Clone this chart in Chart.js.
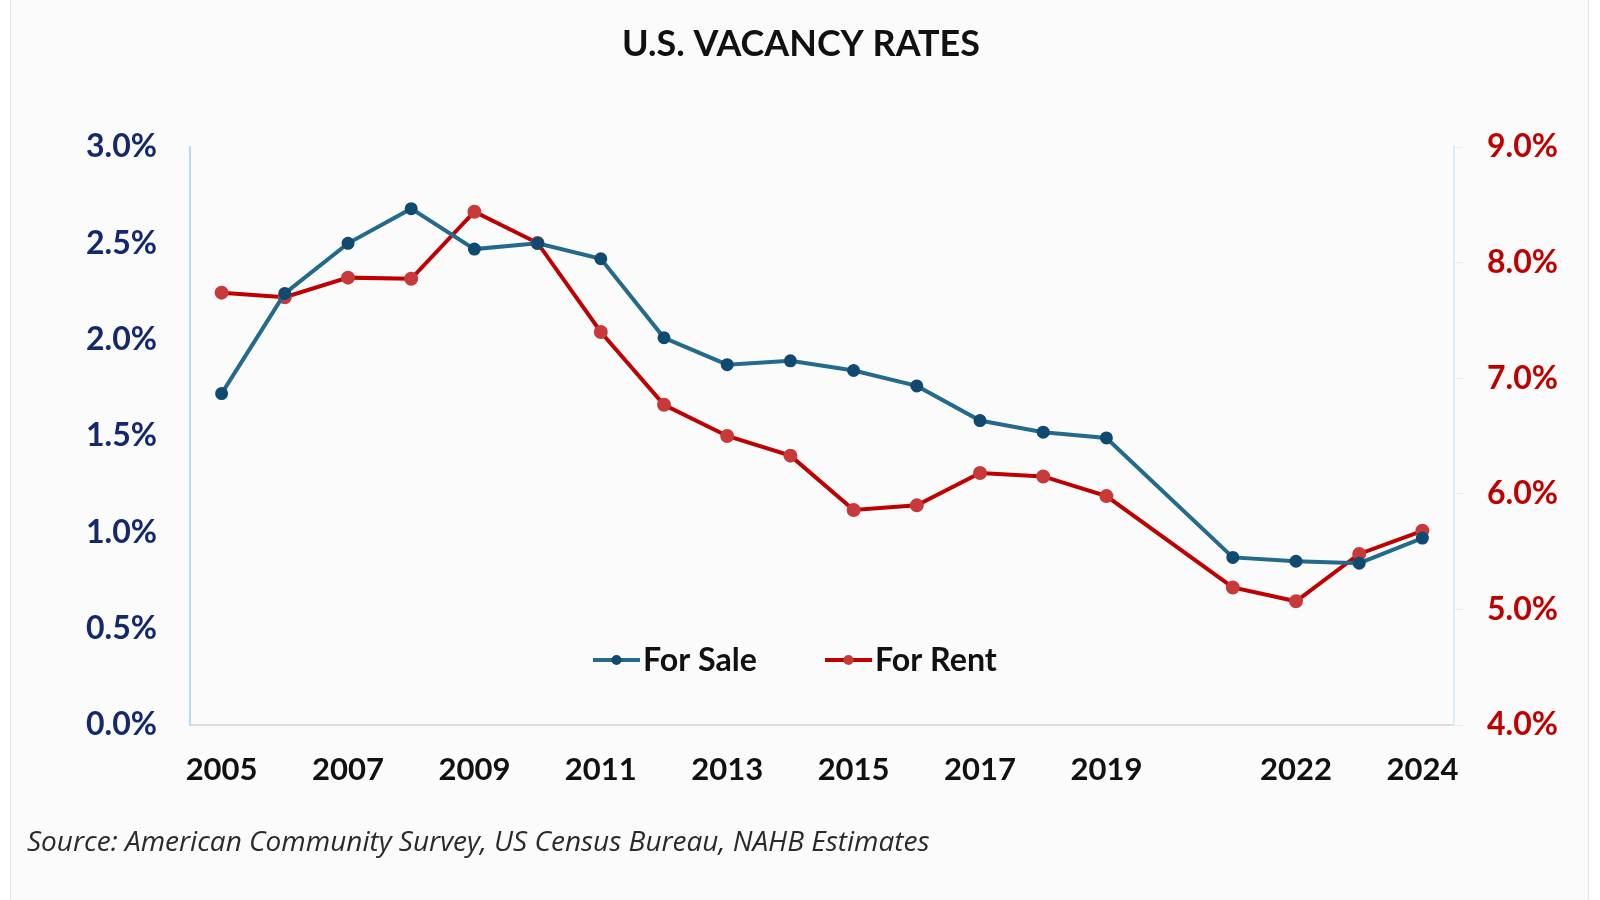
<!DOCTYPE html>
<html>
<head>
<meta charset="utf-8">
<script src="https://cdn.jsdelivr.net/npm/chart.js@4/dist/chart.umd.min.js"></script>
<style>
  html, body { margin: 0; padding: 0; background: #ffffff; }
  #wrap { position: relative; width: 1600px; height: 900px; }
</style>
</head>
<body>
<div id="wrap"><canvas id="vacancyChart" width="1600" height="900"></canvas></div>
<script>
// ---- data ----
const years = ['2005','2006','2007','2008','2009','2010','2011','2012','2013','2014',
               '2015','2016','2017','2018','2019','2020','2021','2022','2023','2024'];
const shownYears = ['2005','2007','2009','2011','2013','2015','2017','2019','2022','2024'];
const forSale = [1.72, 2.24, 2.50, 2.68, 2.47, 2.50, 2.42, 2.01, 1.87, 1.89,
                 1.84, 1.76, 1.58, 1.52, 1.49, null, 0.87, 0.85, 0.84, 0.97];
const forRent = [7.74, 7.70, 7.87, 7.86, 8.44, 8.17, 7.40, 6.77, 6.50, 6.33,
                 5.86, 5.90, 6.18, 6.15, 5.98, null, 5.19, 5.07, 5.48, 5.68];

const saleColor = '#236a8c';
const salePoint = '#114a70';
const rentColor = '#c00000';
const rentPoint = '#c83a3a';
const FONT = 'Lato, "Open Sans", sans-serif';

// draw text squeezed/stretched to a given width by picking the font size
function fitText(c, text, x, y, width, style, family) {
    c.font = style + ' 20px ' + family;
    const size = 20 * width / c.measureText(text).width;
    c.font = style + ' ' + size.toFixed(1) + 'px ' + family;
    c.fillText(text, x, y);
}

// title, source note, legend inside the plot
const decorations = {
    id: 'decorations',
    beforeDraw(chart) {
        const c = chart.ctx;
        c.save();
        c.fillStyle = '#ffffff';
        c.fillRect(0, 0, chart.width, chart.height);
        c.fillStyle = '#fbfbfb';
        c.fillRect(10, 0, 1579, 900);
        c.strokeStyle = '#e2e2e2';
        c.lineWidth = 1;
        c.strokeRect(10.5, -1, 1578, 902);
        c.restore();
    },
    afterDraw(chart) {
        const c = chart.ctx;
        c.save();
        c.fillStyle = '#111111';
        c.textAlign = 'center';
        c.textBaseline = 'middle';
        fitText(c, 'U.S. VACANCY RATES', 801, 44, 358, 'bold', FONT);

        c.textAlign = 'left';
        c.fillStyle = '#2a2a2a';
        fitText(c, 'Source: American Community Survey, US Census Bureau, NAHB Estimates', 27, 843, 901, 'italic', '"Open Sans", sans-serif');

        const items = [
            { label: 'For Sale', color: saleColor, pt: salePoint, x: 593, w: 114 },
            { label: 'For Rent', color: rentColor, pt: rentPoint, x: 825, w: 122 }
        ];
        const y = 660;
        items.forEach(it => {
            c.strokeStyle = it.color;
            c.lineWidth = 4;
            c.beginPath();
            c.moveTo(it.x, y);
            c.lineTo(it.x + 47, y);
            c.stroke();
            c.fillStyle = it.pt;
            c.beginPath();
            c.arc(it.x + 23.5, y, 5, 0, Math.PI * 2);
            c.fill();
            c.fillStyle = '#111111';
            fitText(c, it.label, it.x + 50, y + 1, it.w, 'bold', FONT);
        });
        c.restore();
    }
};

new Chart(document.getElementById('vacancyChart'), {
    type: 'line',
    data: {
        labels: years,
        datasets: [
            { label: 'For Sale', data: forSale, yAxisID: 'y', borderColor: saleColor, backgroundColor: salePoint,
              pointBackgroundColor: salePoint, pointBorderColor: salePoint, borderWidth: 4, pointRadius: 4.5,
              tension: 0, spanGaps: true },
            { label: 'For Rent', data: forRent, yAxisID: 'y2', borderColor: rentColor, backgroundColor: rentPoint,
              pointBackgroundColor: rentPoint, pointBorderColor: rentPoint, borderWidth: 4, pointRadius: 5,
              tension: 0, spanGaps: true }
        ]
    },
    options: {
        responsive: false,
        animation: false,
        devicePixelRatio: 1,
        layout: { padding: { top: 147, left: 0, right: 0, bottom: 0 } },
        plugins: { legend: { display: false }, tooltip: { enabled: false } },
        scales: {
            x: {
                offset: true,
                grid: { display: false, drawTicks: false },
                border: { color: '#dcdcdc', width: 2 },
                ticks: {
                    autoSkip: false, maxRotation: 0, padding: 26, color: '#111111',
                    font: { family: FONT, size: 31, weight: 'bold' },
                    callback: function (v) {
                        const lab = years[v];
                        return shownYears.includes(lab) ? lab : '';
                    }
                },
                afterFit: s => { s.height = 175; }
            },
            y: {
                position: 'left', min: 0, max: 3,
                grid: { drawOnChartArea: false, drawTicks: false },
                border: { color: '#b3ddf3', width: 2 },
                ticks: {
                    stepSize: 0.5, padding: 33, color: '#14286e',
                    font: { family: FONT, size: 32, weight: 'bold' },
                    callback: v => v.toFixed(1) + '%'
                },
                afterFit: s => { s.width = 190; }
            },
            y2: {
                position: 'right', min: 4, max: 9,
                grid: { drawOnChartArea: false, tickLength: 9, color: '#d9eef9' },
                border: { color: '#d9eef9', width: 2 },
                ticks: {
                    stepSize: 1, padding: 24, color: '#c00000',
                    font: { family: FONT, size: 32, weight: 'bold' },
                    callback: v => v.toFixed(1) + '%'
                },
                afterFit: s => { s.width = 146; }
            }
        }
    },
    plugins: [decorations]
});
</script>
</body>
</html>
